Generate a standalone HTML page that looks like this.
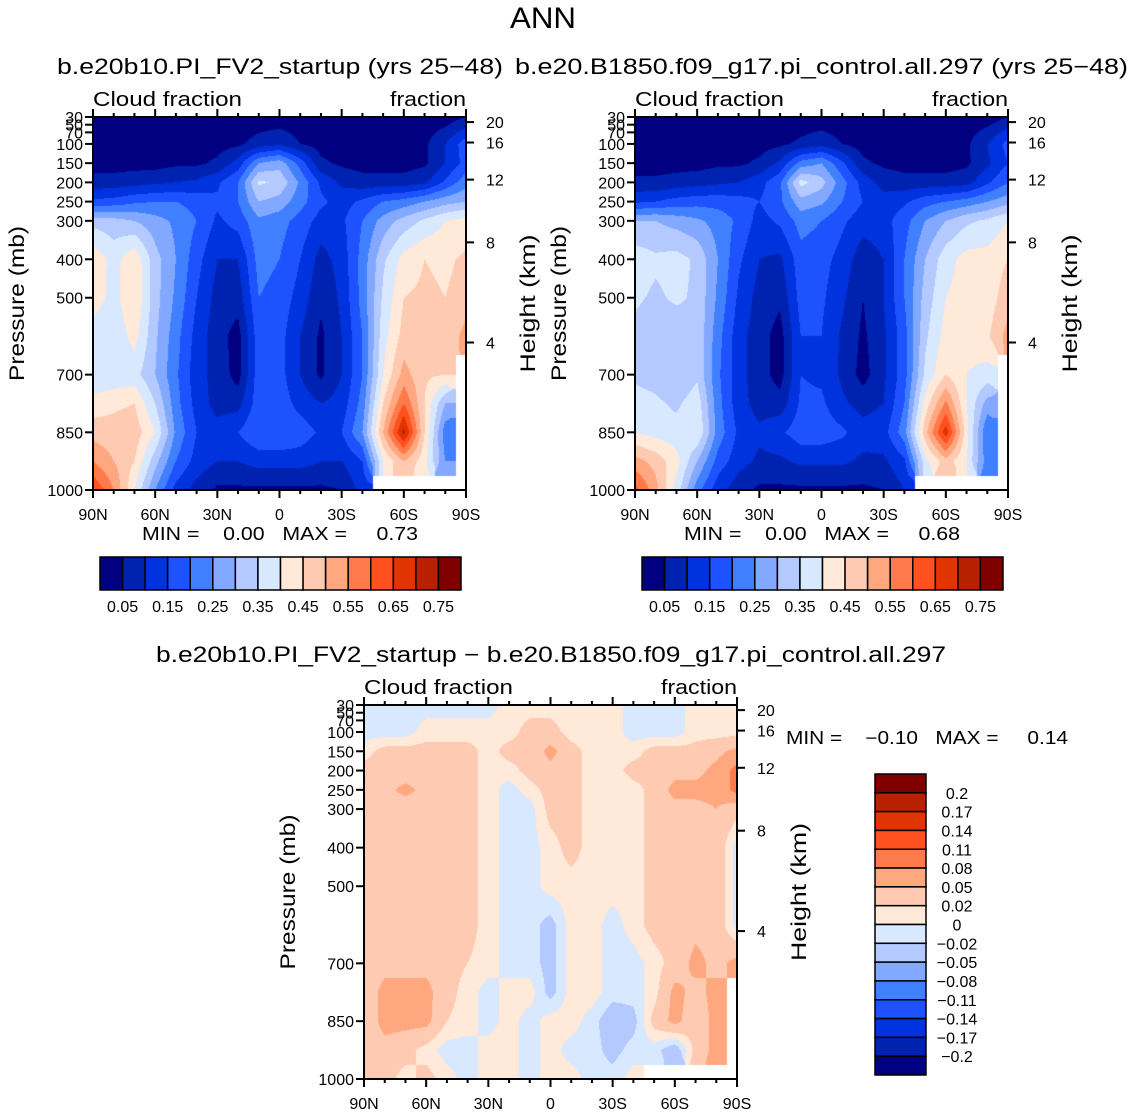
<!DOCTYPE html>
<html><head><meta charset="utf-8">
<style>
html,body{margin:0;padding:0;background:#fff;}
#root{position:relative;width:1134px;height:1114px;overflow:hidden;font-family:"Liberation Sans",sans-serif;}
canvas{position:absolute;}
svg{position:absolute;left:0;top:0;}
</style></head>
<body>
<div id="root">
<canvas id="cA" width="373" height="373" style="left:93px;top:117px"></canvas>
<canvas id="cB" width="373" height="373" style="left:635px;top:117px"></canvas>
<canvas id="cD" width="373" height="374" style="left:364px;top:705px"></canvas>
<svg id="svg" width="1134" height="1114"></svg>
</div>
<script>
// ---- data ----
const lats = [90,80,70,60,50,40,30,20,10,0,-10,-20,-30,-40,-50,-60,-70,-80,-90];
const pres = [30,100,150,200,250,300,400,500,600,700,775,850,925,1000];
const N = null;
const cloudA = [
 [.02,.02,.02,.02,.02,.02,.02,.02,.02,.02,.02,.02,.02,.02,.02,.02,.02,.02,.05],
 [.03,.03,.03,.03,.03,.03,.03,.04,.07,.09,.05,.03,.03,.03,.03,.03,.04,.10,.18],
 [.03,.03,.03,.03,.04,.04,.06,.12,.25,.28,.18,.06,.04,.03,.03,.03,.04,.10,.17],
 [.07,.07,.08,.09,.10,.11,.14,.20,.36,.34,.24,.14,.09,.07,.07,.07,.09,.16,.23],
 [.16,.17,.19,.20,.20,.18,.16,.20,.30,.28,.22,.16,.13,.16,.20,.22,.25,.28,.30],
 [.33,.32,.30,.27,.24,.20,.14,.17,.24,.22,.18,.13,.14,.20,.27,.32,.36,.40,.42],
 [.44,.38,.44,.32,.25,.17,.10,.10,.22,.20,.15,.08,.12,.22,.34,.42,.45,.44,.46],
 [.43,.38,.45,.32,.24,.15,.08,.07,.20,.18,.13,.06,.11,.22,.36,.45,.46,.45,.47],
 [.37,.36,.42,.31,.22,.13,.07,.03,.18,.17,.10,.04,.10,.20,.38,.47,.46,.46,.52],
 [.36,.36,.37,.30,.21,.12,.08,.03,.18,.17,.10,.04,.10,.20,.40,.52,.46,.45,N],
 [.42,.44,.45,.35,.22,.13,.08,.08,.18,.18,.13,.10,.12,.22,.45,.60,.45,.30,N],
 [.48,.47,.48,.40,.24,.15,.12,.15,.20,.20,.18,.14,.15,.25,.50,.72,.45,.22,N],
 [.55,.50,.45,.32,.20,.13,.10,.10,.12,.12,.12,.10,.10,.15,.40,.50,.42,.25,N],
 [.65,.55,.40,.25,.13,.08,.04,.04,.04,.04,.04,.04,.05,.12,N,N,N,N,N]
];
const cloudB = [
 [.02,.02,.02,.02,.02,.02,.02,.02,.02,.02,.02,.02,.02,.02,.02,.02,.02,.02,.05],
 [.03,.03,.03,.03,.03,.03,.03,.04,.06,.08,.05,.03,.03,.03,.03,.03,.04,.10,.17],
 [.03,.03,.03,.03,.04,.04,.06,.11,.22,.25,.16,.06,.04,.03,.03,.03,.04,.09,.15],
 [.06,.06,.07,.08,.09,.10,.13,.19,.37,.32,.22,.13,.08,.07,.07,.07,.08,.14,.20],
 [.14,.15,.17,.18,.18,.17,.15,.19,.28,.26,.20,.15,.12,.14,.18,.20,.22,.25,.28],
 [.30,.30,.28,.26,.23,.19,.13,.16,.22,.20,.16,.12,.13,.18,.25,.30,.34,.36,.40],
 [.38,.36,.37,.34,.25,.16,.10,.09,.18,.17,.13,.07,.10,.20,.30,.38,.42,.42,.45],
 [.36,.34,.36,.34,.24,.14,.08,.06,.17,.16,.11,.05,.10,.20,.32,.40,.42,.42,.48],
 [.33,.32,.31,.34,.22,.12,.07,.03,.15,.15,.09,.04,.09,.18,.34,.42,.42,.44,.52],
 [.34,.33,.30,.34,.21,.12,.07,.03,.15,.14,.09,.03,.09,.18,.36,.45,.40,.38,N],
 [.37,.36,.34,.38,.22,.12,.08,.07,.16,.16,.11,.08,.10,.20,.42,.56,.40,.28,N],
 [.40,.38,.37,.40,.23,.14,.11,.14,.18,.18,.16,.12,.13,.23,.48,.68,.42,.20,N],
 [.52,.48,.42,.30,.18,.12,.09,.09,.11,.11,.11,.09,.09,.14,.38,.48,.40,.22,N],
 [.62,.52,.38,.22,.12,.07,.04,.04,.04,.04,.04,.04,.05,.10,N,N,N,N,N]
];
const cloudDiff = [
 [-.01,-.01,-.01,-.01,-.01,-.01,-.01,.01,.01,.01,.01,.01,.01,-.01,-.01,-.01,.01,.01,.01],
 [-.01,-.01,-.01,.01,.01,.01,.01,.01,.03,.03,.01,.01,.01,-.01,-.01,-.01,.01,.01,.01],
 [.01,.03,.03,.03,.03,.03,.01,.03,.03,.06,.03,.01,.01,.01,.03,.03,.03,.04,.06],
 [.03,.03,.03,.03,.03,.03,.01,.01,.03,.04,.03,.01,.01,.03,.03,.04,.04,.06,.09],
 [.03,.04,.06,.04,.03,.03,.01,-.01,.01,.03,.03,.01,.00,.01,.03,.06,.06,.06,.09],
 [.03,.03,.03,.03,.03,.03,.01,-.01,-.01,.03,.03,.01,.01,.01,.03,.04,.04,.05,.03],
 [.02,.03,.03,.03,.03,.03,.01,-.01,-.01,.01,.03,.01,.01,.01,.03,.03,.03,.04,-.01],
 [.03,.03,.03,.03,.03,.03,.01,-.01,-.01,.01,.01,.01,.01,.01,.03,.03,.04,.04,-.01],
 [.03,.03,.03,.03,.03,.03,.01,-.01,-.01,-.03,.01,.01,-.01,.01,.03,.03,.04,.04,-.01],
 [.03,.04,.04,.04,.03,.02,.01,-.01,-.01,-.03,.01,.01,-.01,-.01,.01,.03,.06,.04,.06],
 [.03,.06,.06,.06,.03,.01,-.01,.01,.01,-.03,.01,.01,-.01,-.01,.01,.06,.04,.06,N],
 [.03,.06,.06,.06,.02,.01,-.01,.01,-.01,.01,.01,-.01,-.04,-.03,.03,.06,.03,.06,N],
 [.03,.04,.03,.01,-.01,-.01,.01,.01,-.01,.01,-.01,-.01,-.03,-.01,-.01,-.04,.03,.06,N],
 [.03,.03,.01,.03,.01,-.01,.01,.01,-.01,.01,.01,-.01,-.01,.01,N,N,N,N,N]
];
const levelsAbs = [0.05,0.1,0.15,0.2,0.25,0.3,0.35,0.4,0.45,0.5,0.55,0.6,0.65,0.7,0.75];
const levelsDiff = [-0.2,-0.17,-0.14,-0.11,-0.08,-0.05,-0.02,0,0.02,0.05,0.08,0.11,0.14,0.17,0.2];
const absLabels = ["0.05","0.15","0.25","0.35","0.45","0.55","0.65","0.75"];
const diffLabels = ["0.2","0.17","0.14","0.11","0.08","0.05","0.02","0","\u22120.02","\u22120.05","\u22120.08","\u22120.11","\u22120.14","\u22120.17","\u22120.2"];
const pTicks = [30,50,70,100,150,200,250,300,400,500,700,850,1000];
const pLabels = ["30","50","70","100","150","200","250","300","400","500","700","850","1000"];
const hTicks = [20,16,12,8,4];
const latTicks = [90,60,30,0,-30,-60,-90];
const latLabels = ["90N","60N","30N","0","30S","60S","90S"];
const colors = ["#000080","#0022b0","#0033dd","#1f52ff","#4080ff","#82a8ff","#b3c9ff","#d8e8ff","#ffe9d9","#ffcab2","#ffa880","#ff7a4a","#ff5020","#e03402","#b72000","#800000"];

// ---- rendering ----
function val(grid, lat, p){
  let fi = (90-lat)/10; let i0=Math.min(Math.floor(fi),lats.length-2); let tx=fi-i0;
  let j0=0; while(j0<pres.length-2 && p>pres[j0+1]) j0++;
  let ty=(p-pres[j0])/(pres[j0+1]-pres[j0]);
  const ni = tx<0.5?i0:i0+1, nj = ty<0.5?j0:j0+1;
  if(grid[nj][ni]===null) return null;
  const g=(j,i)=>{let v=grid[j][i]; if(v===null) v=grid[nj][ni]; return v;};
  const a=g(j0,i0),b=g(j0,i0+1),c=g(j0+1,i0),d=g(j0+1,i0+1);
  return (a*(1-tx)+b*tx)*(1-ty)+(c*(1-tx)+d*tx)*ty;
}
function hex(h){return [parseInt(h.substr(1,2),16),parseInt(h.substr(3,2),16),parseInt(h.substr(5,2),16)];}
const rgb = colors.map(hex);
function paint(id, grid, levels){
  const cv=document.getElementById(id), ctx=cv.getContext('2d');
  const W=cv.width,H=cv.height, img=ctx.createImageData(W,H);
  for(let y=0;y<H;y++){
    const p=30+(y+0.5)/H*970;
    for(let x=0;x<W;x++){
      const lat=90-(x+0.5)/W*180;
      const v=val(grid,lat,p); let c=[255,255,255];
      if(v!==null){let k=0; while(k<levels.length && v>=levels[k]-1e-9) k++; c=rgb[k];}
      const o=(y*W+x)*4; img.data[o]=c[0];img.data[o+1]=c[1];img.data[o+2]=c[2];img.data[o+3]=255;
    }
  }
  ctx.putImageData(img,0,0);
}
paint('cA',cloudA,levelsAbs);
paint('cB',cloudB,levelsAbs);
paint('cD',cloudDiff,levelsDiff);

const svg=document.getElementById('svg'); const NS="http://www.w3.org/2000/svg";
function mk(tag,attrs,parent){const e=document.createElementNS(NS,tag);for(const k in attrs)e.setAttribute(k,attrs[k]);(parent||svg).appendChild(e);return e;}
function txt(x,y,s,size,anchor,len,rot){
  const a={x:x,y:y,'font-size':size,'text-anchor':anchor||'start',fill:'#000'};
  if(len){a.textLength=len;a.lengthAdjust='spacingAndGlyphs';}
  if(rot)a.transform='rotate(-90 '+x+' '+y+')';
  const e=mk('text',a); e.textContent=s; return e;
}
function hPres(h){return 1013.25*Math.pow(1-2.25577e-5*h*1000,5.25588);}

function panel(x0,y0,W,H,prefix){
  const py=p=>y0+(p-30)/970*H, lx=l=>x0+(90-l)/180*W;
  const g=mk('g',{});
  
  
  mk('rect',{x:x0,y:y0,width:W,height:H,fill:'none',stroke:'#000','stroke-width':2},g);
  for(let l=90;l>=-90;l-=10){
    const major=latTicks.indexOf(l)>=0; const L=major?8:4;
    mk('line',{x1:lx(l),x2:lx(l),y1:y0+H,y2:y0+H+L,stroke:'#000','stroke-width':2},g);
    mk('line',{x1:lx(l),x2:lx(l),y1:y0,y2:y0-L,stroke:'#000','stroke-width':2},g);
  }
  latTicks.forEach((l,i)=>{const t=txt(lx(l),y0+H+30,latLabels[i],16,'middle');
    
    });
  pTicks.forEach((p,i)=>{
    mk('line',{x1:x0-8,x2:x0,y1:py(p),y2:py(p),stroke:'#000','stroke-width':2},g);
    const t=txt(x0-10,py(p)+6,pLabels[i],16,'end');
    
    
  });
  hTicks.forEach(h=>{
    const y=py(hPres(h));
    mk('line',{x1:x0+W,x2:x0+W+8,y1:y,y2:y,stroke:'#000','stroke-width':2},g);
    const t=txt(x0+W+20,y+6,String(h),16,'start');
    
    
  });
  let t=txt(x0,y0-11,'Cloud fraction',20,'start',149);
  
  
  t=txt(x0+W,y0-11,'fraction',20,'end',76);
  
  
  t=txt(x0-69,y0+H/2,'Pressure (mb)',21,'middle',155,true);
  
  
  t=txt(x0+W+69,y0+H/2,'Height (km)',21,'middle',138,true);
  
  
}
panel(93,117,373,373,'panel-1');
panel(635,117,373,373,'panel-2');
panel(364,705,373,374,'diff-panel');

let t=txt(543,28,'ANN',30,'middle',66);


t=txt(57,74,'b.e20b10.PI_FV2_startup (yrs 25\u221248)',22,'start',446);


t=txt(515,74,'b.e20.B1850.f09_g17.pi_control.all.297 (yrs 25\u221248)',22,'start',613);


t=txt(156,662,'b.e20b10.PI_FV2_startup \u2212 b.e20.B1850.f09_g17.pi_control.all.297',22,'start',790);



function minmax(x,y,mn,mx,len){
  const e=txt(x,y,'MIN =    '+mn+'   MAX =     '+mx,18,'start',len);
  e.setAttribute('xml:space','preserve'); e.style.whiteSpace='pre';
  
  
}
minmax(142,540,'0.00','0.73',276);
minmax(684,540,'0.00','0.68',276);
minmax(786,744,'\u22120.10','0.14',282);

function hbar(x0,y0,w,h){
  const bw=w/colors.length;
  colors.forEach((c,i)=>{
    const r=mk('rect',{x:x0+i*bw,y:y0,width:bw,height:h,fill:c,stroke:'#000','stroke-width':1.5});
    
    
  });
  absLabels.forEach((s,i)=>{const e=txt(x0+(2*i+1)*bw,y0+h+22,s,16,'middle');
    
    });
}
hbar(100,557,361,33);
hbar(642,557,361,33);
(function(){
  const x0=875,y0=774,w=51,h=301,bh=h/colors.length;
  colors.slice().reverse().forEach((c,i)=>{
    const r=mk('rect',{x:x0,y:y0+i*bh,width:w,height:bh,fill:c,stroke:'#000','stroke-width':1.5});
    
    
  });
  diffLabels.forEach((s,i)=>{const e=txt(957,y0+(i+1)*bh+6,s,16,'middle');
    
    });
})();
</script>
</body></html>
